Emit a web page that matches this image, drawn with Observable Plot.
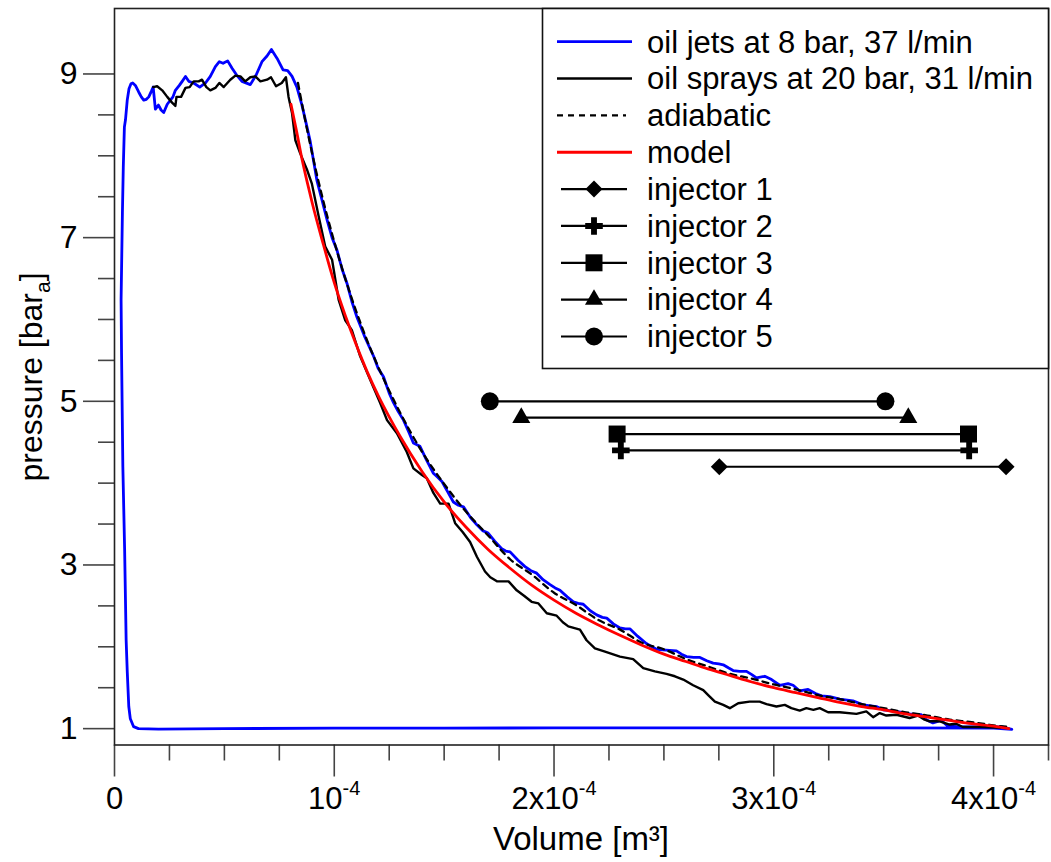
<!DOCTYPE html>
<html>
<head>
<meta charset="utf-8">
<script src="https://cdn.jsdelivr.net/npm/d3@7"></script>
<script src="https://cdn.jsdelivr.net/npm/@observablehq/plot@0.6"></script>
<style>
  html, body { margin: 0; padding: 0; background: #fff; }
  #chart { width: 1051px; height: 862px; }
</style>
</head>
<body>
<div id="chart"></div>
<script>
// Volumes are in units of 1e-4 m³, pressures in bar (absolute)
const xMajorTicks = [0, 1, 2, 3, 4];
const xTickLabels = ["0", "10^-4", "2x10^-4", "3x10^-4", "4x10^-4"];
const xMinorTicks = [0.25, 0.5, 0.75, 1.25, 1.5, 1.75, 2.25, 2.5, 2.75, 3.25, 3.5, 3.75, 4.25];
const yMajorTicks = [1, 3, 5, 7, 9];
const yMinorTicks = [1.5, 2, 2.5, 3.5, 4, 4.5, 5.5, 6, 6.5, 7.5, 8, 8.5];

const legendLabels = ["oil jets at 8 bar, 37 l/min", "oil sprays at 20 bar, 31 l/min", "adiabatic", "model",
  "injector 1", "injector 2", "injector 3", "injector 4", "injector 5"];

// oil jets at 8 bar, 37 l/min  [V, p]
const oilJets = [
  [0.109,1.0],[0.087,1.024],[0.072,1.12],[0.065,1.27],[0.058,1.7],[0.053,2.08],[0.046,3.2],[0.038,4.2],
  [0.032,5.6],[0.030,6.24],[0.036,7.3],[0.040,7.86],[0.045,8.35],[0.050,8.44],[0.058,8.68],[0.066,8.82],
  [0.075,8.88],[0.083,8.89],[0.095,8.86],[0.110,8.78],[0.122,8.72],[0.133,8.68],[0.145,8.69],[0.156,8.72],
  [0.168,8.79],[0.176,8.84],[0.186,8.57],[0.200,8.62],[0.212,8.56],[0.224,8.53],[0.240,8.63],[0.266,8.72],
  [0.277,8.80],[0.295,8.86],[0.308,8.91],[0.323,8.97],[0.338,8.91],[0.360,8.89],[0.388,8.84],[0.414,8.89],
  [0.436,8.97],[0.459,9.09],[0.477,9.15],[0.494,9.13],[0.515,9.16],[0.535,9.07],[0.555,8.99],[0.580,8.91],
  [0.618,8.87],[0.645,8.99],[0.671,9.15],[0.694,9.22],[0.714,9.30],[0.740,9.19],[0.767,9.05],[0.788,9.04],
  [0.808,8.97],[0.830,8.84],[0.853,8.62],[0.876,8.35],[0.891,8.17],[0.921,7.70],[0.944,7.46],[0.967,7.22],
  [0.990,7.00],[1.012,6.85],[1.035,6.62],[1.058,6.44],[1.080,6.22],[1.103,6.03],[1.140,5.78],[1.179,5.55],
  [1.200,5.40],[1.224,5.30],[1.250,5.10],[1.270,4.98],[1.290,4.88],[1.315,4.77],[1.340,4.62],[1.360,4.49],
  [1.390,4.45],[1.420,4.28],[1.451,4.12],[1.467,4.08],[1.490,4.02],[1.515,3.90],[1.542,3.77],[1.565,3.73],
  [1.588,3.71],[1.620,3.58],[1.649,3.49],[1.675,3.42],[1.700,3.39],[1.730,3.29],[1.762,3.20],[1.780,3.17],
  [1.800,3.16],[1.835,3.06],[1.868,2.98],[1.895,2.93],[1.921,2.90],[1.950,2.82],[1.982,2.76],[2.005,2.72],
  [2.027,2.69],[2.060,2.61],[2.088,2.55],[2.110,2.53],[2.133,2.52],[2.165,2.44],[2.194,2.39],[2.220,2.36],
  [2.240,2.35],[2.270,2.28],[2.300,2.23],[2.325,2.22],[2.345,2.22],[2.380,2.13],[2.420,2.04],[2.445,2.00],
  [2.467,1.97],[2.510,1.96],[2.557,1.95],[2.580,1.91],[2.603,1.88],[2.635,1.87],[2.664,1.87],[2.695,1.83],
  [2.724,1.80],[2.750,1.79],[2.770,1.78],[2.795,1.74],[2.815,1.71],[2.845,1.70],[2.876,1.70],[2.900,1.66],
  [2.921,1.62],[2.959,1.64],[2.990,1.60],[3.027,1.53],[3.065,1.55],[3.088,1.53],[3.118,1.46],[3.156,1.48],
  [3.190,1.43],[3.217,1.40],[3.255,1.39],[3.300,1.36],[3.360,1.34],[3.406,1.29],[3.467,1.27],[3.497,1.23],
  [3.558,1.21],[3.618,1.18],[3.671,1.17],[3.694,1.11],[3.724,1.07],[3.762,1.10],[3.792,1.03],[3.860,1.02],
  [3.951,1.02],[4.042,1.02],[4.083,0.99],[4.000,1.005],[3.500,1.01],[3.000,1.01],[2.500,1.01],[2.000,1.01],
  [1.500,1.005],[1.000,1.005],[0.500,1.0],[0.200,0.995],[0.109,1.0]
];

// oil sprays at 20 bar, 31 l/min  [V, p]
const oilSprays = [
  [0.176,8.84],[0.194,8.85],[0.217,8.80],[0.240,8.72],[0.262,8.65],[0.277,8.61],[0.282,8.72],[0.303,8.72],
  [0.323,8.83],[0.342,8.84],[0.360,8.91],[0.383,8.91],[0.398,8.93],[0.418,8.84],[0.436,8.80],[0.459,8.83],
  [0.477,8.89],[0.497,8.84],[0.527,8.93],[0.550,8.98],[0.573,8.97],[0.595,8.91],[0.618,8.96],[0.641,8.97],
  [0.664,8.91],[0.694,8.93],[0.712,8.96],[0.735,8.85],[0.761,8.89],[0.780,8.96],[0.792,8.72],[0.808,8.52],
  [0.823,8.19],[0.845,8.03],[0.876,7.83],[0.898,7.66],[0.929,7.26],[0.959,6.89],[0.990,6.73],[1.020,6.24],
  [1.050,5.99],[1.080,5.87],[1.118,5.55],[1.164,5.26],[1.209,4.98],[1.240,4.77],[1.285,4.61],[1.330,4.38],
  [1.360,4.18],[1.399,4.10],[1.421,4.06],[1.451,3.88],[1.482,3.75],[1.520,3.75],[1.550,3.51],[1.585,3.40],
  [1.618,3.28],[1.649,3.10],[1.686,2.92],[1.710,2.85],[1.740,2.80],[1.793,2.80],[1.830,2.69],[1.865,2.62],
  [1.898,2.55],[1.929,2.53],[1.967,2.41],[2.012,2.38],[2.040,2.30],[2.065,2.25],[2.118,2.21],[2.148,2.08],
  [2.186,1.98],[2.232,1.94],[2.300,1.88],[2.360,1.85],[2.406,1.74],[2.459,1.70],[2.512,1.67],[2.550,1.64],
  [2.588,1.60],[2.633,1.53],[2.679,1.47],[2.705,1.40],[2.732,1.33],[2.770,1.29],[2.800,1.25],[2.838,1.31],
  [2.890,1.33],[2.936,1.33],[2.967,1.30],[3.012,1.27],[3.050,1.29],[3.080,1.25],[3.118,1.22],[3.148,1.25],
  [3.180,1.23],[3.209,1.25],[3.247,1.20],[3.300,1.20],[3.376,1.18],[3.421,1.21],[3.452,1.14],[3.482,1.19],
  [3.512,1.16],[3.558,1.17],[3.618,1.13],[3.656,1.16],[3.686,1.11],[3.709,1.09],[3.755,1.09],[3.800,1.05],
  [3.830,1.06],[3.860,1.02],[3.950,1.02],[4.030,1.01]
];

// adiabatic  [V, p]
const adiabatic = [
  [0.835,8.89],[0.86,8.54],[0.9,8.02],[0.95,7.45],[1.0,6.95],[1.05,6.50],[1.1,6.10],[1.15,5.74],[1.2,5.42],
  [1.3,4.86],[1.4,4.38],[1.5,3.99],[1.6,3.65],[1.7,3.36],[1.8,3.07],[1.9,2.88],[2.0,2.66],[2.1,2.51],
  [2.2,2.33],[2.3,2.21],[2.4,2.05],[2.5,1.97],[2.6,1.85],[2.7,1.76],[2.8,1.67],[2.9,1.61],[3.0,1.54],
  [3.1,1.48],[3.2,1.41],[3.3,1.36],[3.4,1.30],[3.5,1.25],[3.6,1.20],[3.7,1.16],[3.8,1.11],[3.9,1.08],
  [4.0,1.04],[4.07,1.02]
];

// model  [V, p]
const model = [
  [0.803,8.63],[0.83,8.28],[0.85,8.0],[0.875,7.70],[0.9,7.42],[0.95,6.92],[1.0,6.45],[1.05,6.05],[1.1,5.69],
  [1.15,5.36],[1.2,5.07],[1.25,4.81],[1.3,4.57],[1.4,4.14],[1.5,3.77],[1.6,3.46],[1.7,3.19],[1.8,2.96],
  [1.9,2.75],[2.0,2.57],[2.1,2.41],[2.2,2.27],[2.3,2.14],[2.4,2.02],[2.5,1.91],[2.6,1.82],[2.7,1.73],
  [2.8,1.65],[2.9,1.57],[3.0,1.50],[3.1,1.44],[3.2,1.38],[3.3,1.32],[3.4,1.27],[3.5,1.23],[3.6,1.18],
  [3.7,1.14],[3.8,1.10],[3.9,1.06],[4.0,1.03],[4.07,1.00]
];

// injectors: start volume, end volume, pressure level
const injectorNames = ["injector 1", "injector 2", "injector 3", "injector 4", "injector 5"];
const injectorStart = [2.752, 2.304, 2.287, 1.851, 1.708];
const injectorEnd   = [4.057, 3.889, 3.886, 3.612, 3.508];
const injectorP     = [4.20, 4.40, 4.60, 4.80, 5.00];

// ---- symbols ----
const diamondSym = { draw(ctx, size) { const r = Math.sqrt(size) * 0.62625; ctx.moveTo(0, -r); ctx.lineTo(r, 0); ctx.lineTo(0, r); ctx.lineTo(-r, 0); ctx.closePath(); } };
const injSymbols = [diamondSym, d3.symbolCross, d3.symbolSquare, d3.symbolTriangle, d3.symbolCircle];
const injR = [7.66, 7.4, 9.59, 6.7, 9];

const injectors = injectorNames.map((name, i) => ({name, v1: injectorStart[i], v2: injectorEnd[i], p: injectorP[i], i}));
const injDots = injectors.flatMap(d => [{v: d.v1, p: d.p, i: d.i}, {v: d.v2, p: d.p, i: d.i}]);

const FONT = "'Liberation Sans', Arial, Helvetica, sans-serif";
const TICK = "#444";

const marks = [
  Plot.line(oilJets, {x: d => d[0], y: d => d[1], stroke: "#0000ff", strokeWidth: 2.8, strokeLinejoin: "round"}),
  Plot.line(oilSprays, {x: d => d[0], y: d => d[1], stroke: "#000", strokeWidth: 2.4, strokeLinejoin: "round"}),
  Plot.line(adiabatic, {x: d => d[0], y: d => d[1], stroke: "#000", strokeWidth: 2.3, strokeDasharray: "6,5", curve: "monotone-x"}),
  Plot.line(model, {x: d => d[0], y: d => d[1], stroke: "#ff0000", strokeWidth: 2.8, curve: "monotone-x"}),
  Plot.ruleY(injectors, {y: "p", x1: "v1", x2: "v2", stroke: "#000", strokeWidth: 2.2}),
];
injSymbols.forEach((sym, k) => {
  marks.push(Plot.dot(injDots.filter(d => d.i === k), {x: "v", y: "p", symbol: sym, r: injR[k], fill: "#000", stroke: "none"}));
});
marks.push(
  Plot.axisX({ticks: xMajorTicks, tickSize: 32, tickPadding: 10, stroke: TICK, strokeWidth: 1.6, fontSize: 31,
    tickFormat: d => xTickLabels[xMajorTicks.indexOf(d)], label: null}),
  Plot.axisX({ticks: xMinorTicks, tickSize: 16, stroke: TICK, strokeWidth: 1.6, tickFormat: () => "", label: null}),
  Plot.axisY({ticks: yMajorTicks, tickSize: 31, tickPadding: 6, stroke: TICK, strokeWidth: 1.6, fontSize: 32,
    tickFormat: d => String(d), label: null}),
  Plot.axisY({ticks: yMinorTicks, tickSize: 16, stroke: TICK, strokeWidth: 1.6, tickFormat: () => "", label: null}),
  Plot.frame({stroke: "#222", strokeWidth: 1.6})
);

const svg = Plot.plot({
  width: 1051,
  height: 862,
  marginLeft: 114,
  marginRight: 3,
  marginTop: 8,
  marginBottom: 117.5,
  x: {domain: [0, 4.25]},
  y: {domain: [0.8, 9.8]},
  style: {fontFamily: FONT, fontSize: "30px", color: "#000", background: "#fff"},
  marks
});

const root = d3.select(svg);

// superscripts in tick labels
root.selectAll("text").each(function () {
  const t = this.textContent;
  if (t.includes("^")) {
    const [base, exp] = t.split("^");
    this.textContent = "";
    const s = d3.select(this);
    s.append("tspan").text(base);
    s.append("tspan").attr("dy", "-14").attr("font-size", "20px").text(exp);
  }
});

// axis titles
root.append("text")
  .attr("x", 581).attr("y", 850)
  .attr("text-anchor", "middle").attr("font-family", FONT).attr("font-size", 33).attr("fill", "#000")
  .text("Volume [m³]");

const yl = root.append("text")
  .attr("transform", "translate(42,377) rotate(-90)")
  .attr("text-anchor", "middle").attr("font-family", FONT).attr("font-size", 32).attr("fill", "#000");
yl.append("tspan").text("pressure [bar");
yl.append("tspan").attr("dy", 8).attr("font-size", 21).text("a");
yl.append("tspan").attr("dy", -8).text("]");

// legend
const lg = root.append("g").attr("font-family", FONT).attr("font-size", 31).attr("text-anchor", "start");
lg.append("rect").attr("x", 542.5).attr("y", 8.5).attr("width", 506).attr("height", 360)
  .attr("fill", "#fff").attr("stroke", "#111").attr("stroke-width", 1.6);
const lineStyles = [
  {stroke: "#0000ff", width: 2.8, dash: null},
  {stroke: "#000", width: 2.4, dash: null},
  {stroke: "#000", width: 2.3, dash: "6,5"},
  {stroke: "#ff0000", width: 2.8, dash: null}
];
legendLabels.forEach((label, i) => {
  const cy = 41.7 + 36.85 * i;
  if (i < 4) {
    const st = lineStyles[i];
    lg.append("line").attr("x1", 557).attr("x2", i === 2 ? 626 : 632).attr("y1", cy).attr("y2", cy)
      .attr("stroke", st.stroke).attr("stroke-width", st.width).attr("stroke-dasharray", st.dash);
  } else {
    const k = i - 4;
    lg.append("line").attr("x1", 561).attr("x2", 627).attr("y1", cy).attr("y2", cy)
      .attr("stroke", "#000").attr("stroke-width", 2.2);
    lg.append("path").attr("transform", `translate(594,${cy})`)
      .attr("d", d3.symbol(injSymbols[k], Math.PI * injR[k] * injR[k])()).attr("fill", "#000");
  }
  lg.append("text").attr("x", 647).attr("y", cy + 10.8).attr("fill", "#000").attr("text-anchor", "start").text(label);
});

document.getElementById("chart").appendChild(svg);
</script>
</body>
</html>
